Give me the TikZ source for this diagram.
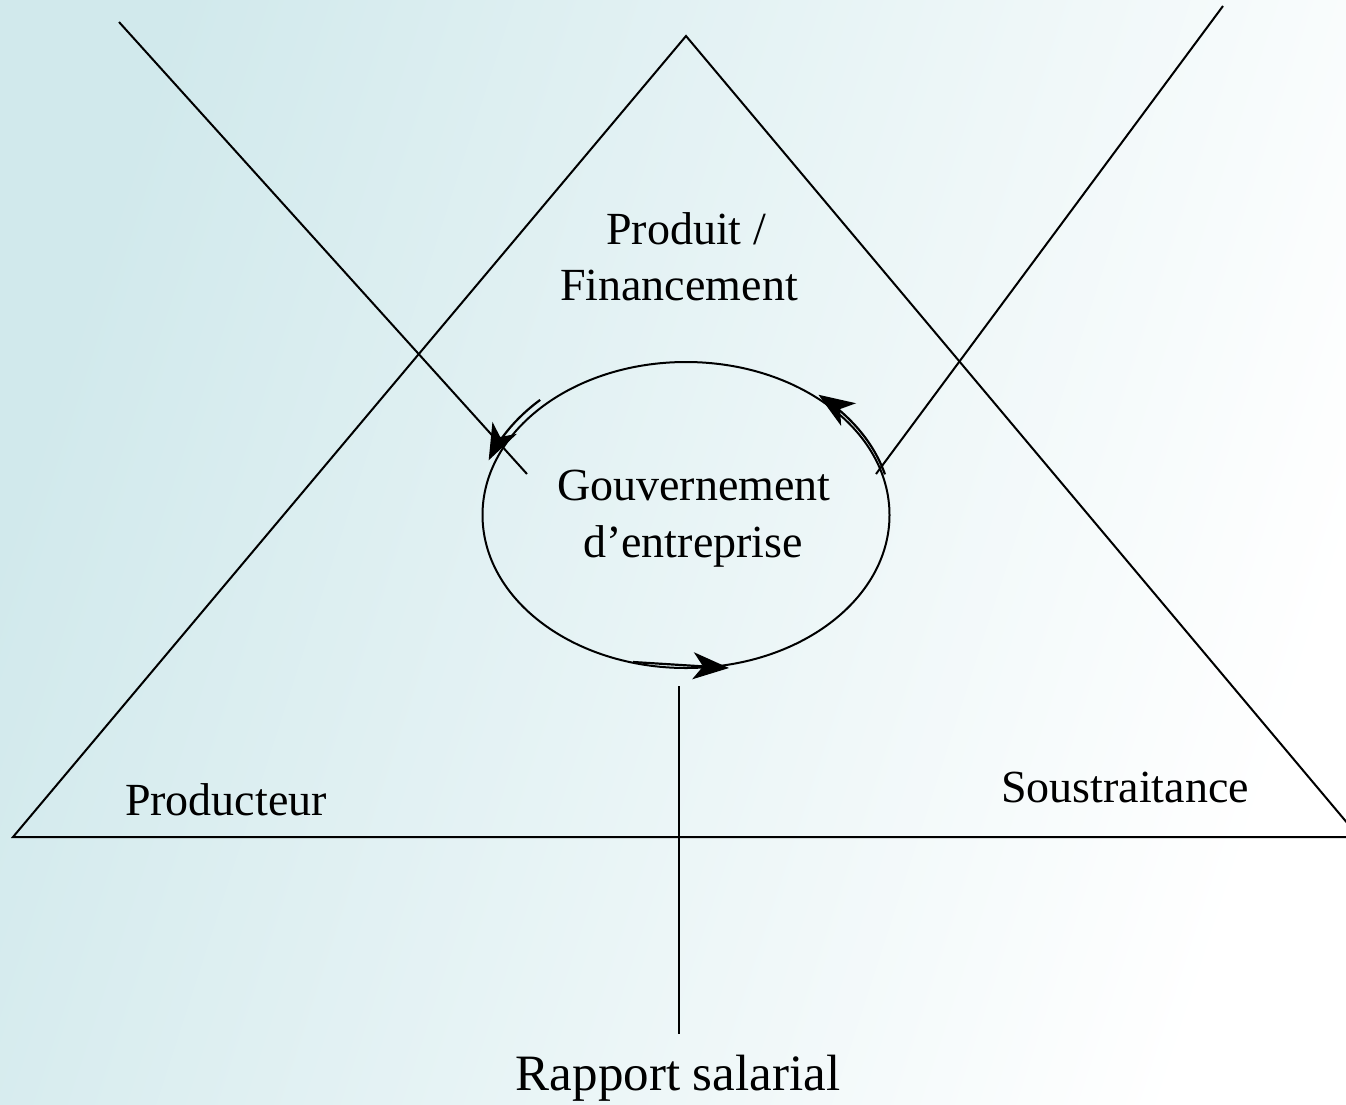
\documentclass[tikz,border=0pt]{standalone}
\usepackage{fontspec}
\setmainfont{Liberation Serif}
\usetikzlibrary{shapes.geometric,arrows.meta}

\definecolor{bgteal}{RGB}{209,233,236}
\definecolor{bgmid}{RGB}{231,244,245}

\tikzset{
  stroke/.style={line width=2pt, black},
  flow/.style={line width=2.2pt, black,
    -{Stealth[length=36pt,width=27pt,inset=10pt]}},
  lbl/.style={anchor=base, inner sep=0pt, font=\fontsize{46}{55}\selectfont},
  biglbl/.style={anchor=base, inner sep=0pt, font=\fontsize{51}{60}\selectfont},
}

\begin{document}
\begin{tikzpicture}[x=1pt, y=-1pt]
  % page frame and background wash
  \useasboundingbox (0,0) rectangle (1346,1104);
  \shade[shading=axis, top color=bgteal, middle color=bgmid, bottom color=white,
         shading angle=72] (0,0) rectangle (1346,1104);

  % triangle corners
  \coordinate (apex) at (686,36);
  \coordinate (bl) at (13,837);
  \coordinate (br) at (1359,837);
  \draw[stroke, line join=miter] (apex) -- (bl) -- (br) -- cycle;

  % central ellipse
  \node[draw, stroke, ellipse, minimum width=407pt, minimum height=306pt, inner sep=0pt]
    (gov) at (686,515) {};

  % the three incoming lines
  \coordinate (lt) at (119,22);
  \coordinate (lb) at (527,474);
  \coordinate (rt) at (1223,6);
  \coordinate (rb) at (876,474);
  \coordinate (vt) at (679,686);
  \coordinate (vb) at (679,1034);
  \draw[stroke] (lt) -- (lb);
  \draw[stroke] (rt) -- (rb);
  \draw[stroke] (vt) -- (vb);

  % circulation arrows along the ellipse
  \draw[flow] plot[domain=134:160, samples=25] ({686+210*cos(\x)}, {515-160*sin(\x)});
  \draw[flow] plot[domain=15:50, samples=25] ({686+206*cos(\x)}, {515-157*sin(\x)});
  \coordinate (bt) at (633,662);
  \coordinate (bh) at (729,668);
  \draw[flow] (bt) -- (bh);

  % labels
  \node[lbl] (prod1) at (686,244) {Produit /};
  \node[lbl] (prod2) at (679,300) {Financement};
  \node[lbl] (gov1) at (694,500) {Gouvernement};
  \node[lbl] (gov2) at (693,557) {d’entreprise};
  \node[lbl] (pro) at (226,815) {Producteur};
  \node[lbl] (sous) at (1125,802) {Soustraitance};
  \node[biglbl] (rap) at (678,1090) {Rapport salarial};
\end{tikzpicture}
\end{document}
